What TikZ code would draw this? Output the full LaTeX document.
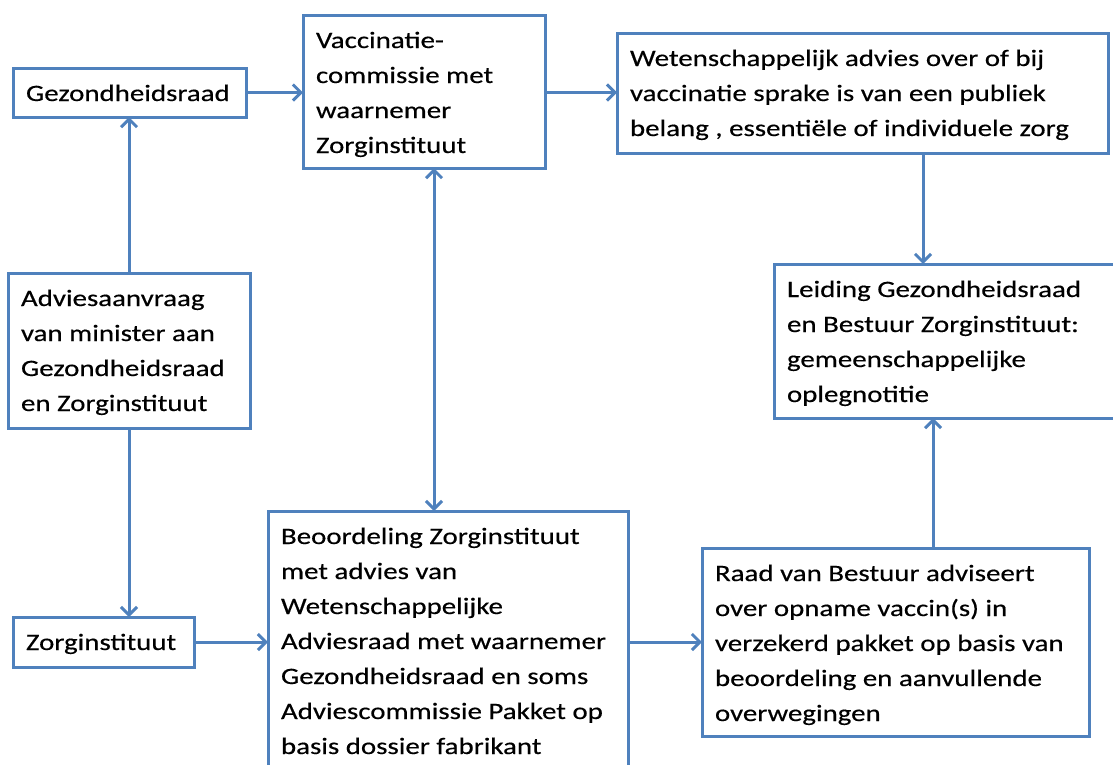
\documentclass[tikz,border=0pt]{standalone}
\usepackage{fontspec}
\setmainfont{Carlito}[FakeStretch=1.23,FakeBold=0.4]
\usetikzlibrary{arrows.meta}
\definecolor{boxblue}{HTML}{4F81BD}
\newcommand{\bxt}[3]{\parbox[t][#2pt][t]{\dimexpr#1pt-26pt\relax}{\raggedright\rule{0pt}{33pt}#3}}
\tikzset{
  mytip/.tip={Straight Barb[length=8pt,width=16pt]},
  box/.style={draw=boxblue, line width=3pt, inner xsep=13pt, inner ysep=0pt, outer sep=0pt,
    anchor=north west, font=\fontsize{23.5pt}{35pt}\selectfont, text=black},
  conn/.style={draw=boxblue, line width=3pt, -mytip},
  dconn/.style={draw=boxblue, line width=3pt, mytip-mytip}
}
\begin{document}
\begin{tikzpicture}[x=1pt,y=-1pt]
\fill[white] (0,0) rectangle (1113,764);
\useasboundingbox (0,0) rectangle (1113,764);
\node[box] (gez) at (13,68) {\bxt{233}{49}{Gezondheidsraad}};
\node[box] (vac) at (303,15) {\bxt{242}{153}{Vaccinatie-\\commissie met\\waarnemer\\Zorginstituut}};
\node[box] (wet) at (617,33) {\bxt{491}{120}{Wetenschappelijk advies over of bij\\vaccinatie sprake is van een publiek\\belang , essentiële of individuele zorg}};
\node[box] (lei) at (774,264) {\bxt{342}{154}{Leiding Gezondheidsraad\\en Bestuur Zorginstituut:\\gemeenschappelijke\\oplegnotitie}};
\node[box] (adv) at (8,273) {\bxt{242}{155}{Adviesaanvraag\\van minister aan\\Gezondheidsraad\\en Zorginstituut}};
\node[box] (zorg) at (13,617) {\bxt{181}{50}{Zorginstituut}};
\node[box] (beo) at (268,511) {\bxt{360}{258}{Beoordeling Zorginstituut\\met advies van\\Wetenschappelijke\\Adviesraad met waarnemer\\Gezondheidsraad en soms\\Adviescommissie Pakket op\\basis dossier fabrikant}};
\node[box] (raad) at (702,548) {\bxt{387}{188}{Raad van Bestuur adviseert\\over opname vaccin(s) in\\verzekerd pakket op basis van\\beoordeling en aanvullende\\overwegingen}};
\draw[conn] (adv.north) -- (adv.north |- gez.south);
\draw[conn] (adv.south) -- (adv.south |- zorg.north);
\draw[conn] (gez.east) -- (gez.east -| vac.west);
\draw[conn] (vac.east |- gez.east) -- (gez.east -| wet.west);
\draw[dconn] ([xshift=10pt]vac.south) -- ([xshift=10pt]vac.south |- beo.north);
\draw[conn] ([xshift=60.5pt]wet.south) -- ([xshift=60.5pt]wet.south |- lei.north);
\draw[conn] ([xshift=37.5pt]raad.north) -- ([xshift=37.5pt]raad.north |- lei.south);
\draw[conn] (zorg.east) -- (zorg.east -| beo.west);
\draw[conn] (raad.west -| beo.east) -- (raad.west);
\end{tikzpicture}
\end{document}
